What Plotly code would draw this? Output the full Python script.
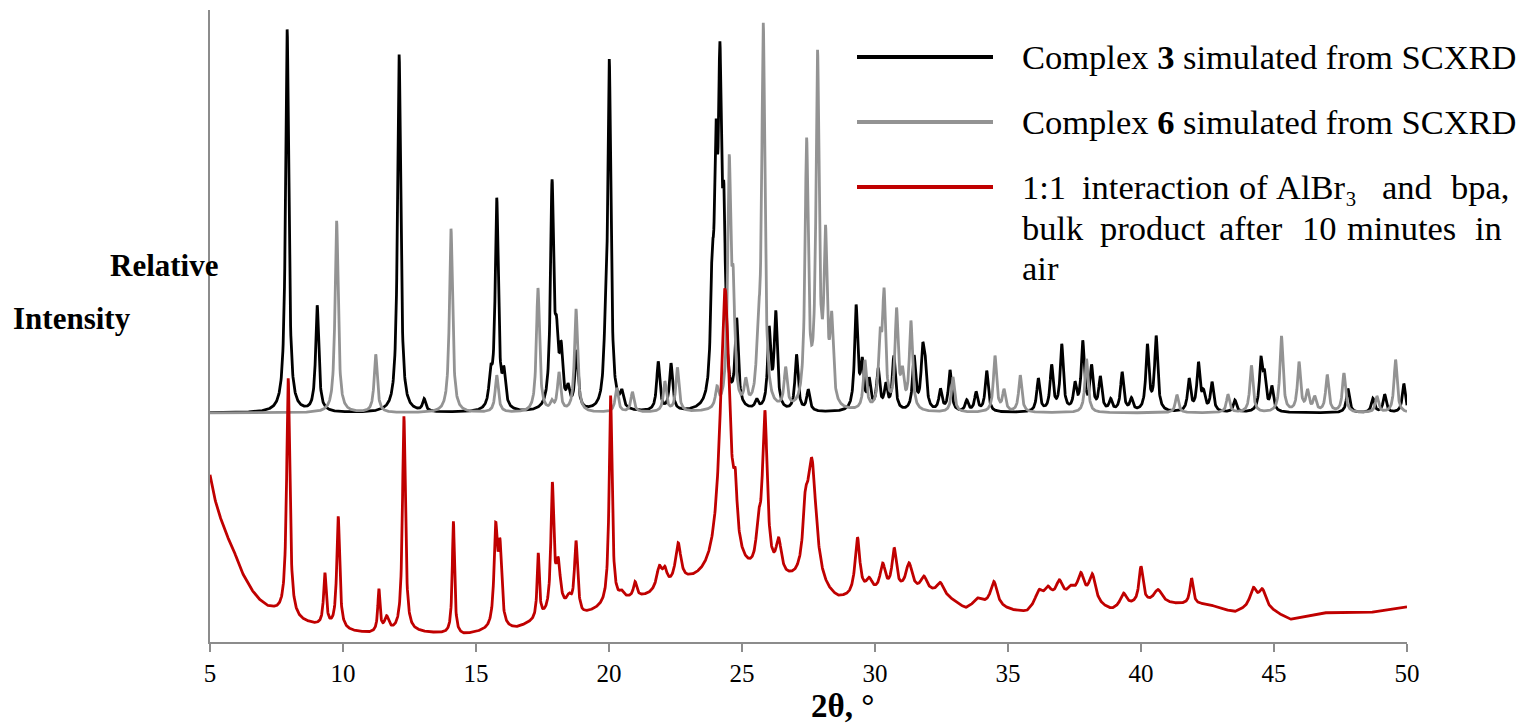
import numpy as np
import plotly.graph_objects as go

# ---------------- data ----------------
# Complex 3 simulated pattern: peak positions (2theta, deg) and heights (a.u.)
black_pos = [7.90, 9.03, 12.11, 13.05, 15.55, 15.78, 16.05, 17.86, 18.03, 18.20, 18.46, 18.78,
             19.86, 20.01, 20.48, 21.85, 22.33, 23.88, 24.02, 24.17, 24.32, 24.80, 25.55, 26.02,
             26.27, 27.05, 27.49, 29.29, 29.52, 29.78, 30.12, 30.41, 30.71, 31.47, 31.79, 31.88,
             32.46, 32.82, 33.45, 33.80, 34.20, 36.14, 36.64, 37.02, 37.52, 37.81, 38.14, 38.47,
             38.86, 39.29, 39.64, 40.24, 40.57, 41.81, 42.16, 42.35, 42.67, 43.53, 44.51, 44.64,
             44.92, 47.78, 48.72, 49.16, 49.88]
black_int = [383, 106, 358, 12, 30, 210, 32, 222, 55, 52, 18, 58,
             42, 345, 15, 49, 47, 105, 210, 298, 160, 85, 9, 78,
             95, 56, 21, 103, 44, 28, 40, 24, 54, 53, 52, 38,
             21, 41, 11, 19, 41, 33, 45, 66, 25, 68, 43, 33,
             11, 39, 12, 65, 74, 32, 47, 16, 29, 12, 48, 31,
             24, 24, 14, 18, 29]

# Complex 6 simulated pattern
gray_pos = [9.76, 11.23, 14.06, 15.78, 17.33, 17.85, 18.12, 18.76, 20.29, 20.88, 22.10, 22.57,
            24.06, 24.52, 24.67, 25.14, 25.61, 25.80, 26.64, 27.43, 27.84, 28.14, 28.37, 29.62,
            30.19, 30.34, 30.81, 31.03, 31.35, 32.93, 34.51, 34.85, 35.46, 37.95, 41.35, 43.27,
            44.15, 45.28, 45.94, 46.26, 46.53, 47.00, 47.63, 48.87, 49.57]
gray_int = [192, 58, 184, 37, 124, 8, 38, 103, 24, 20, 30, 44,
            19, 238, 100, 24, 60, 380, 39, 262, 345, 160, 80, 49,
            62, 110, 97, 32, 88, 35, 56, 21, 37, 54, 18, 18,
            47, 76, 49, 20, 14, 37, 39, 16, 53]

# 1:1 AlBr3 / bpa bulk product: background knots and peaks
red_bg_theta = [5.0, 5.06, 5.12, 5.25, 5.38, 5.6, 5.87, 6.15, 6.5, 6.8, 7.13, 7.6, 8.4, 9.0,
                10.3, 11.0, 12.8, 13.5, 14.5, 15.2, 16.5, 17.0, 18.4, 19.0, 19.7, 20.6, 21.5,
                22.2, 23.0, 24.5, 26.8, 28.6, 29.5, 31.0, 32.5, 33.4, 34.0, 35.2, 35.7, 36.5,
                37.5, 38.9, 40.0, 41.0, 42.5, 43.5, 44.5, 45.6, 46.8, 48.5, 50.0]
red_bg = [167, 158, 149, 136, 125, 108, 93, 72, 54, 43, 35, 29, 20, 16,
          10, 8, 9, 8, 6, 9, 12, 17, 30, 25, 32, 40, 44,
          50, 56, 60, 54, 38, 42, 47, 47, 32, 37, 30, 28, 40,
          42, 30, 37, 37, 37, 29, 36, 22, 29, 29, 35]
red_pos = [7.94, 9.32, 9.82, 11.35, 11.64, 12.29, 14.15, 15.74, 15.90, 17.34, 17.87, 18.09,
           18.50, 18.76, 20.06, 20.47, 20.98, 21.89, 22.10, 22.60, 24.36, 24.75, 25.62, 25.86,
           26.38, 27.38, 27.62, 29.34, 29.78, 30.29, 30.72, 31.28, 31.84, 32.45, 33.83, 34.47,
           36.16, 36.50, 36.93, 37.36, 37.74, 38.17, 39.34, 40.00, 40.64, 41.90, 44.22, 44.57]
red_int = [238, 52, 112, 42, 14, 216, 113, 95, 75, 65, 125, 45,
           10, 70, 209, 6, 15, 22, 15, 40, 290, 45, 36, 160,
           34, 45, 128, 58, 14, 28, 42, 28, 15, 10, 6, 25,
           14, 10, 17, 8, 24, 28, 14, 36, 14, 26, 18, 15]
red_fwhm = [0.14, 0.12, 0.13, 0.10, 0.20, 0.13, 0.10, 0.15, 0.15, 0.10, 0.13, 0.20,
            0.20, 0.14, 0.13, 0.20, 0.15, 0.25, 0.20, 0.25, 0.42, 0.15, 0.20, 0.22,
            0.25, 0.20, 0.42, 0.22, 0.30, 0.25, 0.20, 0.30, 0.30, 0.30, 0.30, 0.30,
            0.35, 0.30, 0.30, 0.30, 0.30, 0.30, 0.30, 0.18, 0.40, 0.15, 0.30, 0.30]

sim_fwhm = 0.14          # peak width of the simulated patterns (deg)
sim_offset = 229         # vertical offset of the simulated patterns (a.u.)

x_ticks = [5, 10, 15, 20, 25, 30, 35, 40, 45, 50]

# ---------------- build profiles ----------------
tt = np.round(np.arange(5.0, 50.0 + 1e-9, 0.01), 2)


def profile(pos, inten, fwhm):
    pos = np.asarray(pos, float)[:, None]
    inten = np.asarray(inten, float)[:, None]
    fwhm = np.broadcast_to(np.asarray(fwhm, float), pos.shape[:1])[:, None]
    return (inten / (1.0 + ((tt[None, :] - pos) / (fwhm / 2.0)) ** 2)).sum(axis=0)


black_y = sim_offset + profile(black_pos, black_int, sim_fwhm)
gray_y = sim_offset + profile(gray_pos, gray_int, sim_fwhm)
red_y = np.interp(tt, red_bg_theta, red_bg) + profile(red_pos, red_int, red_fwhm)

BLACK = "#000000"
GRAY = "#939393"
RED = "#C00000"
FONT = "Liberation Serif"

fig = go.Figure()
fig.add_trace(go.Scatter(x=tt, y=black_y, mode="lines", line=dict(color=BLACK, width=2.8),
                         name="Complex 3 simulated from SCXRD", showlegend=False))
fig.add_trace(go.Scatter(x=tt, y=gray_y, mode="lines", line=dict(color=GRAY, width=2.8),
                         name="Complex 6 simulated from SCXRD", showlegend=False))
fig.add_trace(go.Scatter(x=tt, y=red_y, mode="lines", line=dict(color=RED, width=2.8),
                         name="1:1 interaction of AlBr3 and bpa, bulk product after 10 minutes in air",
                         showlegend=False))

# ---------------- layout ----------------
L, R, T, B = 210, 1407, 10, 642
W, H = 1520, 727


def px(xp):
    return (xp - L) / (R - L)


def py(yp):
    return (B - yp) / (B - T)


fig.update_layout(
    width=W, height=H,
    margin=dict(l=L, r=W - R, t=T, b=H - B),
    paper_bgcolor="white", plot_bgcolor="white",
    font=dict(family=FONT, color="black"),
    xaxis=dict(range=[5, 50], tickvals=x_ticks, ticktext=[str(v) for v in x_ticks],
               showgrid=False, zeroline=False, showline=True, linecolor="#8c8c8c", linewidth=2,
               ticks="outside", ticklen=8, tickwidth=1.5, tickcolor="#8c8c8c",
               tickfont=dict(family=FONT, size=25, color="black")),
    yaxis=dict(range=[0, B - T], showgrid=False, zeroline=False, showline=True,
               linecolor="#8c8c8c", linewidth=2, showticklabels=False, ticks=""),
)

annotations = []
# axis titles
annotations.append(dict(x=px(842), y=py(706), xref="paper", yref="paper", text="<b>2θ, °</b>",
                        showarrow=False, xanchor="center", yanchor="middle",
                        font=dict(family=FONT, size=33, color="black")))
annotations.append(dict(x=px(164), y=py(265), xref="paper", yref="paper", text="<b>Relative</b>",
                        showarrow=False, xanchor="center", yanchor="middle",
                        font=dict(family=FONT, size=31, color="black")))
annotations.append(dict(x=px(72), y=py(318), xref="paper", yref="paper", text="<b>Intensity</b>",
                        showarrow=False, xanchor="center", yanchor="middle",
                        font=dict(family=FONT, size=31, color="black")))

# legend (drawn manually to match the reference's long keys and justified text)
leg_font = dict(family=FONT, size=34.5, color="black")
shapes = []
for ypix, col in [(57, BLACK), (122, GRAY), (187, RED)]:
    shapes.append(dict(type="line", xref="paper", yref="paper", x0=px(857), x1=px(993),
                       y0=py(ypix), y1=py(ypix), line=dict(color=col, width=4)))
annotations.append(dict(x=px(1020), y=py(57), xref="paper", yref="paper",
                        text="Complex <b>3</b> simulated from SCXRD", showarrow=False,
                        xanchor="left", yanchor="middle", font=leg_font))
annotations.append(dict(x=px(1020), y=py(122), xref="paper", yref="paper",
                        text="Complex <b>6</b> simulated from SCXRD", showarrow=False,
                        xanchor="left", yanchor="middle", font=leg_font))
line3 = [("1:1", 1020), ("interaction", 1080), ("of", 1237), ("AlBr₃", 1274),
         ("and", 1380), ("bpa,", 1449)]
line4 = [("bulk", 1020), ("product", 1098), ("after", 1217), ("10", 1300),
         ("minutes", 1345), ("in", 1473)]
line5 = [("air", 1020)]
for words, ypix in [(line3, 187), (line4, 228), (line5, 268)]:
    for w, xpix in words:
        annotations.append(dict(x=px(xpix), y=py(ypix), xref="paper", yref="paper", text=w,
                                showarrow=False, xanchor="left", yanchor="middle", font=leg_font))

fig.update_layout(annotations=annotations, shapes=shapes)
fig.write_html("out.html", config={"displayModeBar": False},
               post_script="document.body.style.margin='0';document.body.style.overflow='hidden';")
